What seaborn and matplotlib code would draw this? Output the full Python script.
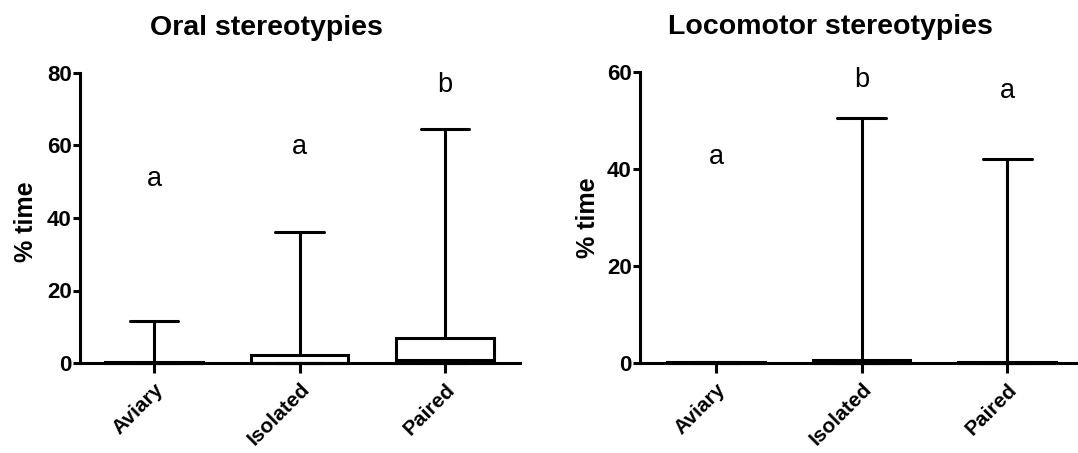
import pandas as pd
import matplotlib
matplotlib.use("Agg")
import matplotlib.pyplot as plt
import seaborn as sns

# Gruppen und Fünf-Punkt-Zusammenfassungen (min, Q1, Median, Q3, max) in % Zeit
groups = ["Aviary", "Isolated", "Paired"]

oral_aviary = [0, 0, 0, 0.3, 11.5]
oral_isolated = [0, 0, 0, 2.3, 36]
oral_paired = [0, 0, 0.7, 6.8, 64.5]

loco_aviary = [0, 0, 0, 0.2, 0.2]
loco_isolated = [0, 0, 0, 0.6, 50.5]
loco_paired = [0, 0, 0, 0.2, 42]

# Signifikanz-Buchstaben und ihre Höhe
oral_letters = ["a", "a", "b"]
oral_letter_y = [48.8, 57.6, 74.8]
loco_letters = ["a", "b", "a"]
loco_letter_y = [41.0, 57.0, 54.7]

sns.set_style("ticks")
plt.rcParams["font.family"] = ["Liberation Sans", "DejaVu Sans"]
plt.rcParams["text.color"] = "black"
plt.rcParams["axes.labelcolor"] = "black"
plt.rcParams["xtick.color"] = "black"
plt.rcParams["ytick.color"] = "black"
plt.rcParams["axes.edgecolor"] = "black"


def long_df(values_per_group):
    rows = []
    for g, vals in zip(groups, values_per_group):
        for v in vals:
            rows.append({"group": g, "value": v})
    return pd.DataFrame(rows)


df_oral = long_df([oral_aviary, oral_isolated, oral_paired])
df_loco = long_df([loco_aviary, loco_isolated, loco_paired])

fig = plt.figure(figsize=(10.78, 4.53), dpi=100)
ax1 = fig.add_axes([80 / 1078, 1 - 363 / 453, 440 / 1078, 290 / 453])
ax2 = fig.add_axes([640 / 1078, 1 - 363 / 453, 440 / 1078, 291 / 453])

panels = [
    (ax1, df_oral, "Oral stereotypies", 80, [0, 20, 40, 60, 80], oral_letters, oral_letter_y, (-0.509, 2.515), 0.423, -0.095, 0.486),
    (ax2, df_loco, "Locomotor stereotypies", 60, [0, 20, 40, 60], loco_letters, loco_letter_y, (-0.522, 2.50), 0.432, -0.091, 0.5),
]

lw = 2.2
for ax, df, title, ymax, yticks, letters, letter_y, xlim, tx, lx, ly in panels:
    sns.boxplot(data=df, x="group", y="value", order=groups, whis=(0, 100),
                width=0.67, color="white", linecolor="black", linewidth=lw,
                showfliers=False, ax=ax)
    ax.set_ylim(0, ymax)
    ax.set_xlim(*xlim)
    ax.set_yticks(yticks)
    ax.set_xticks(range(len(groups)))
    ax.set_xticklabels(groups, rotation=45, ha="right", va="top",
                       rotation_mode="anchor", fontsize=15, fontweight="bold")
    for lab in ax.get_yticklabels():
        lab.set_fontsize(16)
        lab.set_fontweight("bold")
    sns.despine(ax=ax)
    for side in ["left", "bottom"]:
        ax.spines[side].set_linewidth(lw)
        ax.spines[side].set_zorder(5)
    ax.tick_params(axis="y", length=5, width=lw, pad=1)
    ax.tick_params(axis="x", length=7, width=lw, pad=5)
    ax.set_xlabel("")
    ax.set_ylabel("% time", fontsize=18, fontweight="bold")
    ax.yaxis.set_label_coords(lx, ly)
    ax.set_title(title, fontsize=20.5, fontweight="bold", x=tx, y=1.131, pad=0)
    for i, (t, yv) in enumerate(zip(letters, letter_y)):
        ax.text(i, yv, t, ha="center", va="baseline", fontsize=19.5)
    for p in ax.patches:
        p.set_clip_on(False)
    for l in ax.lines:
        l.set_clip_on(False)

fig.savefig("out.png", dpi=100)
